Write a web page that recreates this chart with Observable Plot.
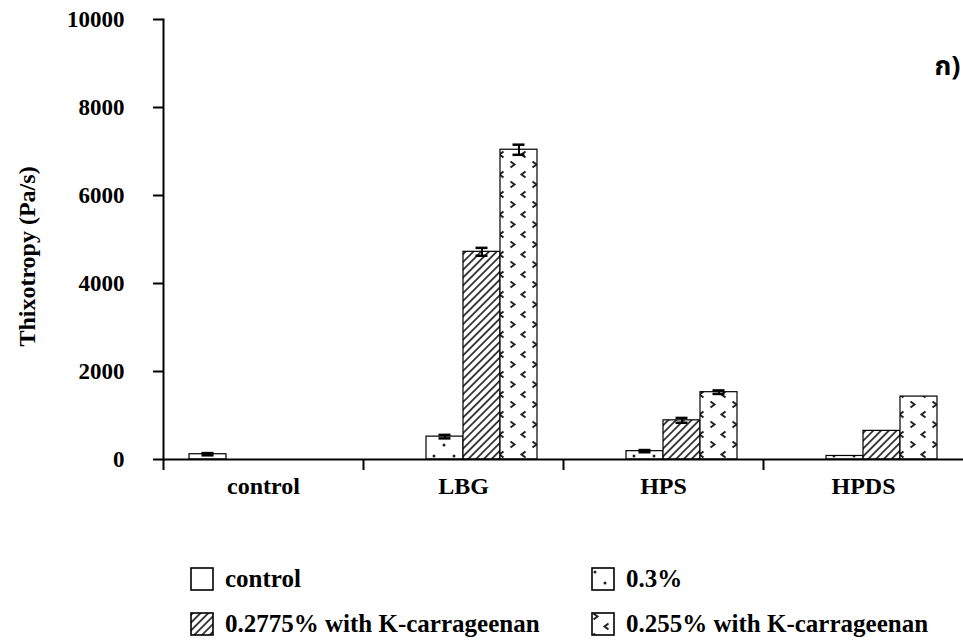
<!DOCTYPE html>
<html>
<head>
<meta charset="utf-8">
<script src="https://cdn.jsdelivr.net/npm/d3@7"></script>
<script src="https://cdn.jsdelivr.net/npm/@observablehq/plot@0.6"></script>
<style>
  html, body { margin: 0; padding: 0; background: white; }
  #wrap { position: relative; width: 963px; height: 644px; background: white; }
  .leg { position: absolute; display: flex; align-items: center; font-family: "Liberation Serif", "Times New Roman", serif; font-weight: bold; font-size: 25px; color: black; height: 24px; }
  .leg svg { margin-right: 11px; }
</style>
</head>
<body>
<svg width="0" height="0" style="position:absolute">
  <defs>
    <pattern id="pDots" patternUnits="userSpaceOnUse" width="20" height="22">
      <rect width="20" height="22" fill="white"/>
      <circle cx="4" cy="5" r="1.5" fill="#222"/>
      <circle cx="14" cy="16" r="1.5" fill="#222"/>
    </pattern>
    <pattern id="pHatch" patternUnits="userSpaceOnUse" width="5.5" height="5.5" patternTransform="rotate(45)">
      <rect width="5.5" height="5.5" fill="white"/>
      <line x1="2.75" y1="0" x2="2.75" y2="5.5" stroke="#333" stroke-width="1.8"/>
    </pattern>
    <pattern id="pChev" patternUnits="userSpaceOnUse" width="22" height="20">
      <rect width="22" height="20" fill="white"/>
      <path d="M2.5,1.5 L6.5,4.5 L2.5,7.5" fill="none" stroke="#222" stroke-width="2"/>
      <path d="M17.5,11.5 L13.5,14.5 L17.5,17.5" fill="none" stroke="#222" stroke-width="2"/>
    </pattern>
  </defs>
</svg>
<div id="wrap">
  <div id="chart"></div>
  <div id="legend"></div>
</div>
<script>
const categories = ["control", "LBG", "HPS", "HPDS"];
const seriesNames = ["control", "0.3%", "0.2775% with K-carrageenan", "0.255% with K-carrageenan"];
// values per category (null = no bar)
const controlValues = [120, null, null, null];
const values03 = [null, 520, 190, 80];
const values2775 = [null, 4720, 890, 650];
const values255 = [null, 7040, 1530, 1430];
// error (± half-length)
const controlErr = [25, null, null, null];
const err03 = [null, 40, 25, 0];
const err2775 = [null, 90, 55, 0];
const err255 = [null, 115, 40, 0];
const yTicks = [0, 2000, 4000, 6000, 8000, 10000];
const yLabel = "Thixotropy (Pa/s)";
const panelTag = "ก)";
const patternFills = ["white", "url(#pDots)", "url(#pHatch)", "url(#pChev)"];

const valueSets = [controlValues, values03, values2775, values255];
const errSets = [controlErr, err03, err2775, err255];
const data = [];
categories.forEach((cat, i) => {
  seriesNames.forEach((s, j) => {
    const v = valueSets[j][i];
    if (v != null) data.push({cat, series: s, value: v, err: errSets[j][i] || 0});
  });
});
const errData = data.filter(d => d.err > 0);

const serif = "'Liberation Serif', 'Times New Roman', serif";

const chart = Plot.plot({
  width: 963,
  height: 520,
  marginLeft: 163,
  marginRight: 0,
  marginTop: 19,
  marginBottom: 61,
  style: {fontFamily: serif, fontSize: "23px", fontWeight: "bold", background: "white", color: "black", overflow: "visible"},
  fx: {domain: categories, padding: 0, label: null},
  x: {domain: seriesNames, paddingInner: 0, paddingOuter: 0.7, axis: null},
  y: {domain: [0, 10000], label: null},
  color: {domain: seriesNames, range: patternFills},
  marks: [
    Plot.barY(data, {fx: "cat", x: "series", y: "value", fill: "series", stroke: "black", strokeWidth: 1.2}),
    Plot.ruleX(errData, {fx: "cat", x: "series", y1: d => d.value - d.err, y2: d => d.value + d.err, stroke: "black", strokeWidth: 2}),
    Plot.tickY(errData, {fx: "cat", x: "series", y: d => d.value + d.err, stroke: "black", strokeWidth: 2.5, insetLeft: 12.5, insetRight: 12.5}),
    Plot.tickY(errData, {fx: "cat", x: "series", y: d => d.value - d.err, stroke: "black", strokeWidth: 2.5, insetLeft: 12.5, insetRight: 12.5}),
    Plot.ruleY([0], {stroke: "black", strokeWidth: 2}),
    Plot.frame({anchor: "left", facetAnchor: "left", stroke: "black", strokeWidth: 2}),
    Plot.axisY({ticks: yTicks, tickSize: 10, tickPadding: 29, tickFormat: d3.format("d"), strokeWidth: 2, fontSize: 23, label: null}),
    Plot.axisFx({anchor: "bottom", tickSize: 11, dx: -100, tickFormat: () => "", strokeWidth: 2, label: null}),
    Plot.axisFx({anchor: "bottom", tickSize: 0, tickPadding: 17, fontSize: 24, label: null}),
    Plot.text([yLabel], {text: d => d, frameAnchor: "left", facetAnchor: "left", textAnchor: "middle", rotate: -90, dx: -136, dy: 17, fontSize: 24, fontWeight: "bold"}),
    Plot.text([panelTag], {text: d => d, frameAnchor: "top-right", facetAnchor: "right", dx: -3, dy: 36, fontSize: 27, fontWeight: "bold", fontFamily: "'Noto Sans Thai', 'Noto Sans', 'DejaVu Sans', sans-serif"})
  ]
});
document.getElementById("chart").appendChild(chart);

// legend (HTML, below the SVG)
const legendPos = [
  {left: 190, top: 567},
  {left: 591, top: 567},
  {left: 190, top: 612},
  {left: 591, top: 612}
];
const legend = document.getElementById("legend");
seriesNames.forEach((s, j) => {
  const item = document.createElement("div");
  item.className = "leg";
  item.style.left = legendPos[j].left + "px";
  item.style.top = legendPos[j].top + "px";
  item.innerHTML = `<svg width="24" height="24"><rect x="1" y="1" width="22" height="22" fill="${patternFills[j]}" stroke="black" stroke-width="1.6"/></svg><span>${s}</span>`;
  legend.appendChild(item);
});
</script>
</body>
</html>
